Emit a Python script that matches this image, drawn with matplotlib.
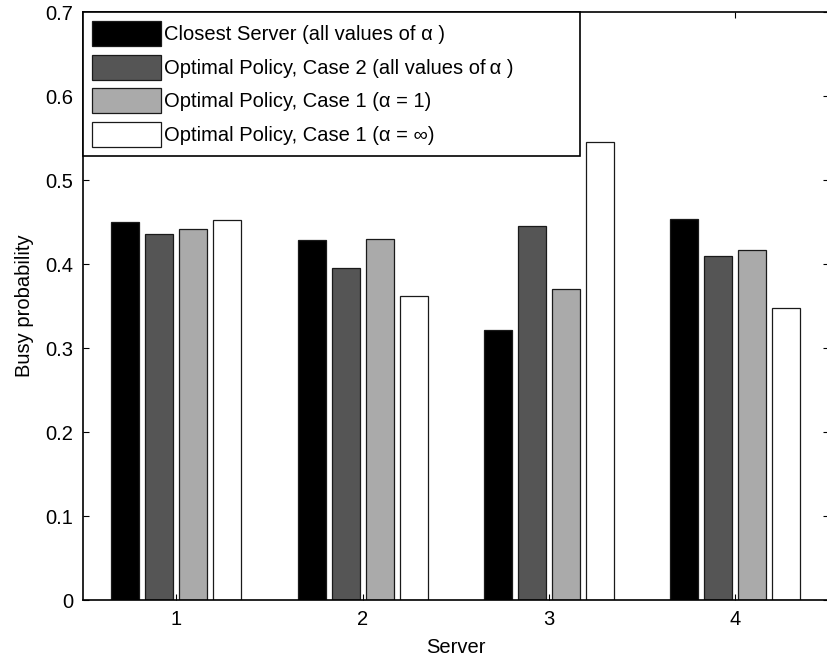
import matplotlib
matplotlib.use("Agg")
import matplotlib.pyplot as plt
import numpy as np

plt.rcParams['font.family'] = ['Liberation Sans', 'DejaVu Sans']

servers = [1, 2, 3, 4]
closest = [0.450, 0.429, 0.322, 0.453]
case2 = [0.436, 0.395, 0.445, 0.409]
case1_a1 = [0.442, 0.430, 0.370, 0.417]
case1_inf = [0.452, 0.362, 0.545, 0.348]
labels = ["Closest Server (all values of α )",
          "Optimal Policy, Case 2 (all values of\u2009α )",
          "Optimal Policy, Case 1 (α = 1)",
          "Optimal Policy, Case 1 (α = ∞)"]
colors = ['#000000', '#555555', '#aaaaaa', '#ffffff']
series = [closest, case2, case1_a1, case1_inf]

W, H = 827, 664
fig = plt.figure(figsize=(W / 100, H / 100), dpi=100)
ax_l, ax_r, ax_t, ax_b = 83, 828.5, 12, 600
ax = fig.add_axes([ax_l / W, (H - ax_b) / H, (ax_r - ax_l) / W, (ax_b - ax_t) / H])

x = np.array(servers, dtype=float)
spacing = 0.1824
width = 0.150
for i, (vals, c, lab) in enumerate(zip(series, colors, labels)):
    ax.bar(x + (i - 1.5) * spacing, vals, width=width, color=c,
           edgecolor='#1a1a1a', linewidth=0.9, label=lab, zorder=2)

fs = 14.5
ax.set_xlim(0.5, 4.5)
ax.set_ylim(0, 0.7)
ax.set_xticks(servers)
ax.set_yticks(np.arange(0, 0.71, 0.1))
ax.set_yticklabels(['0', '0.1', '0.2', '0.3', '0.4', '0.5', '0.6', '0.7'])
ax.tick_params(direction='in', length=4.5, width=0.8, top=True, right=True,
               labelsize=fs)
ax.tick_params(axis='x', pad=7)
ax.tick_params(axis='y', pad=7)
for s in ax.spines.values():
    s.set_linewidth(1.2)
ax.set_xlabel('Server', fontsize=fs, labelpad=7)
ax.set_ylabel('Busy probability', fontsize=fs, labelpad=8)

# legend box spans from axes left to x=580 px
leg_w = (580 - ax_l) / (ax_r - ax_l)
leg = ax.legend(loc='upper left', bbox_to_anchor=(0, 0, leg_w, 1), mode='expand',
                borderaxespad=0, fontsize=fs, handlelength=3.43, handleheight=1.54,
                labelspacing=0.42, handletextpad=0.15, borderpad=0.45,
                fancybox=False, framealpha=1, edgecolor='black')
leg.get_frame().set_linewidth(1.2)

fig.savefig('out.png', dpi=100)
